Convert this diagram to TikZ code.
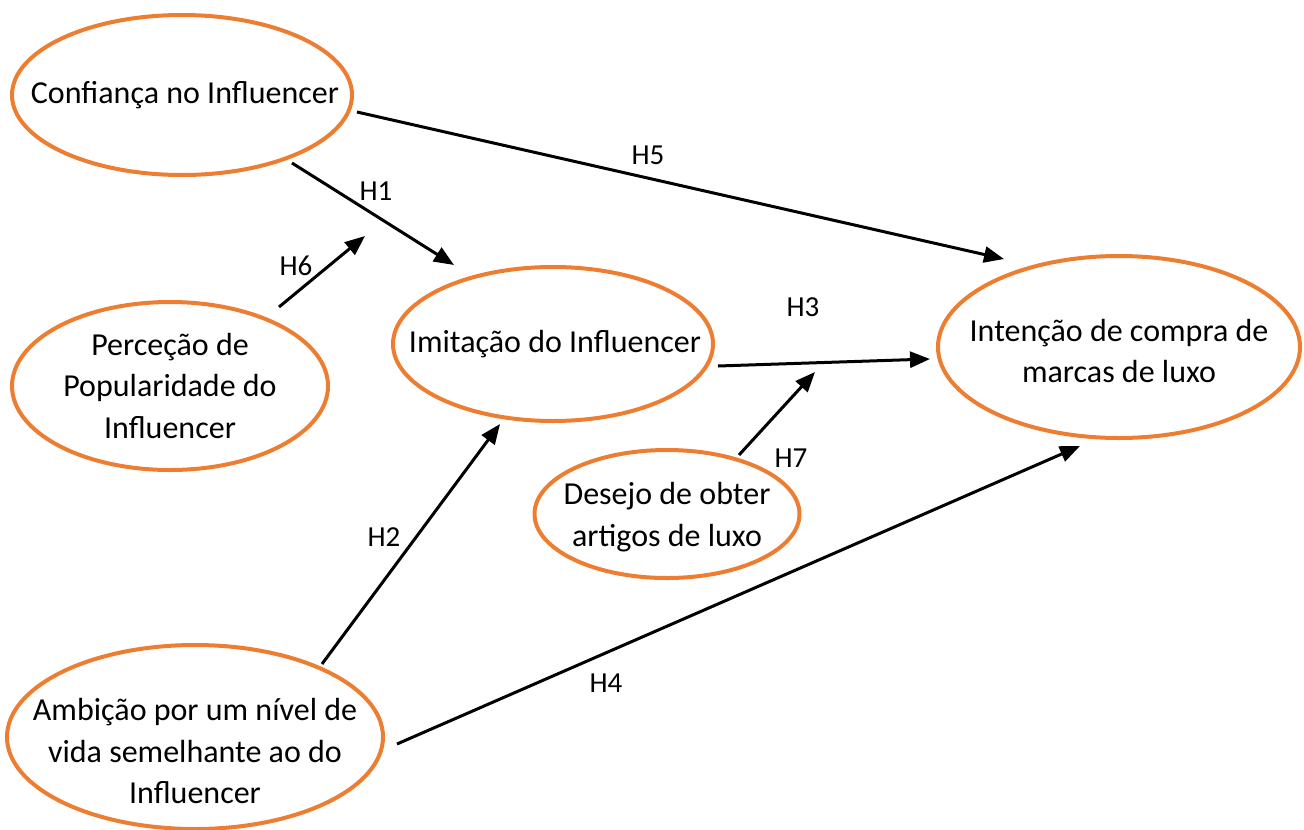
\documentclass[tikz,border=0pt]{standalone}
\usepackage{fontspec}
\setmainfont{Carlito}
\usetikzlibrary{shapes.geometric,arrows.meta}
\definecolor{ofc}{HTML}{ED7D31}
\tikzset{
  oval/.style={ellipse, draw=ofc, line width=4pt, inner sep=0pt},
  txt/.style={align=center, inner sep=0pt, font=\fontsize{32}{41.5}\selectfont},
  hlab/.style={inner sep=0pt, font=\fontsize{29}{34}\selectfont},
  arr/.style={line width=3pt, -{Triangle[length=20pt,width=16pt]}}
}
\begin{document}
\begin{tikzpicture}[x=1pt,y=-1pt]
\useasboundingbox (0,0) rectangle (1304,830);
% ellipses
\node[oval, minimum width=340pt, minimum height=160pt] (conf) at (182,95) {};
\node[txt] (conft) at (185,95) {Confiança no Influencer};
\node[oval, minimum width=316pt, minimum height=168pt] (perc) at (170,386) {};
\node[txt] (perct) at (perc) {Perceção de\\Popularidade do\\Influencer};
\node[oval, minimum width=320pt, minimum height=154pt] (imit) at (553,344) {};
\node[txt] (imitt) at (555,344) {Imitação do Influencer};
\node[oval, minimum width=362pt, minimum height=182pt] (inte) at (1119,347) {};
\node[txt] (intet) at (1119,351) {Intenção de compra de\\marcas de luxo};
\node[oval, minimum width=265pt, minimum height=128pt] (dese) at (667,514) {};
\node[txt] (deset) at (667,517) {Desejo de obter\\artigos de luxo};
\node[oval, minimum width=376pt, minimum height=184pt] (ambi) at (195,737) {};
\node[txt] (ambit) at (195,751) {Ambição por um nível de\\vida semelhante ao do\\Influencer};
% connector end points
\coordinate (h5s) at (357,112); \coordinate (h5e) at (1004,259);
\coordinate (h1s) at (292,163); \coordinate (h1e) at (454,265);
\coordinate (h6s) at (279,307); \coordinate (h6e) at (365,236);
\coordinate (h3s) at (718,366); \coordinate (h3e) at (930,359);
\coordinate (h7s) at (739,455); \coordinate (h7e) at (815,372);
\coordinate (h2s) at (322,664); \coordinate (h2e) at (500,424);
\coordinate (h4s) at (397,744); \coordinate (h4e) at (1080,446);
% connectors
\draw[arr] (h5s) -- (h5e);
\draw[arr] (h1s) -- (h1e);
\draw[arr] (h6s) -- (h6e);
\draw[arr] (h3s) -- (h3e);
\draw[arr] (h7s) -- (h7e);
\draw[arr] (h2s) -- (h2e);
\draw[arr] (h4s) -- (h4e);
% labels
\node[hlab] (l5) at (648,155) {H5};
\node[hlab] (l1) at (376,191) {H1};
\node[hlab] (l6) at (296,266) {H6};
\node[hlab] (l3) at (803,307) {H3};
\node[hlab] (l7) at (791,458) {H7};
\node[hlab] (l2) at (384,537) {H2};
\node[hlab] (l4) at (606,683) {H4};
\end{tikzpicture}
\end{document}
